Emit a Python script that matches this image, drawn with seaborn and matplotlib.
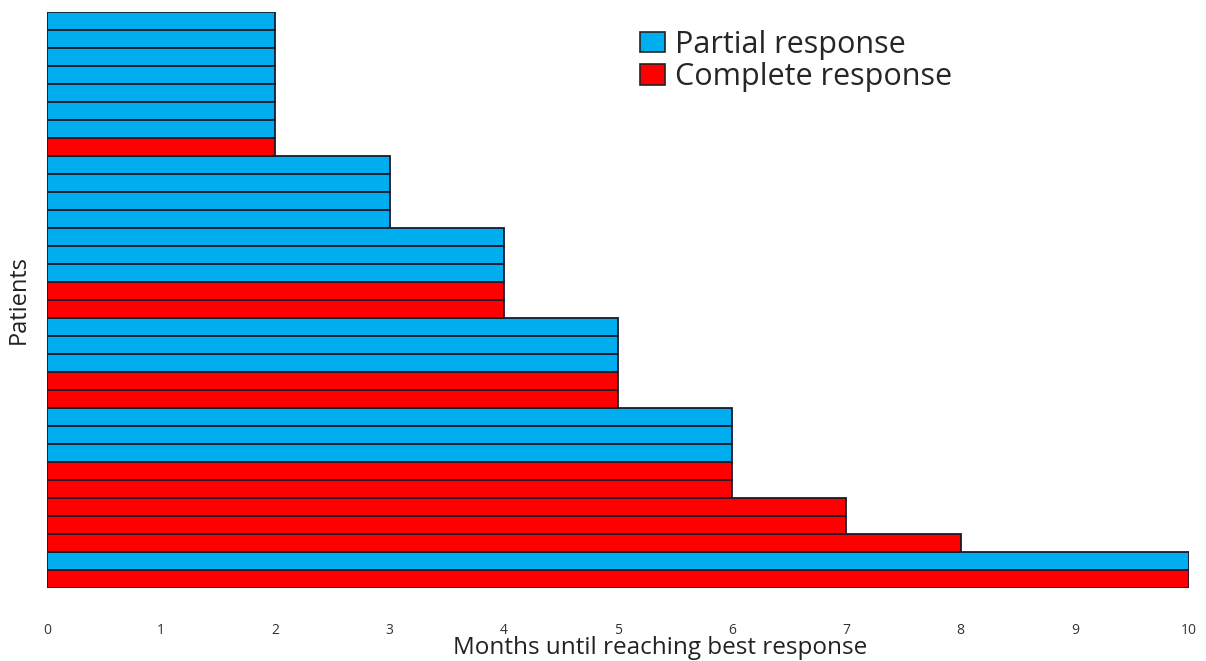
import matplotlib
matplotlib.use("Agg")
import matplotlib.pyplot as plt
import seaborn as sns
import pandas as pd

# Data (top to bottom)
patients = [f"P{i}" for i in range(1, 33)]
months = [2, 2, 2, 2, 2, 2, 2, 2,
          3, 3, 3, 3,
          4, 4, 4, 4, 4,
          5, 5, 5, 5, 5,
          6, 6, 6, 6, 6,
          7, 7, 8, 10, 10]
response = (["Partial response"] * 7 + ["Complete response"] +
            ["Partial response"] * 4 +
            ["Partial response"] * 3 + ["Complete response"] * 2 +
            ["Partial response"] * 3 + ["Complete response"] * 2 +
            ["Partial response"] * 3 + ["Complete response"] * 2 +
            ["Complete response"] * 3 +
            ["Partial response", "Complete response"])
xticks = list(range(0, 11))

df = pd.DataFrame({"patient": patients, "months": months, "response": response})

sns.set_theme(style="white")
plt.rcParams['font.family'] = ['Open Sans', 'DejaVu Sans']

fig = plt.figure(figsize=(12.06, 6.61), dpi=100)
ax = fig.add_axes([47/1206, 1 - 588/661, (1189-47)/1206, (588-12)/661])

palette = {"Partial response": "#00AEEF", "Complete response": "#FF0000"}
sns.barplot(data=df, x="months", y="patient", hue="response", order=patients,
            hue_order=["Partial response", "Complete response"],
            palette=palette, dodge=False, orient="h", width=1.0,
            edgecolor="#1a1a2a", linewidth=1.3, saturation=1, ax=ax, legend=True)

ax.set_xlim(0, 10)
ax.set_ylim(31.5, -0.5)
ax.set_xticks(xticks)
ax.set_xticklabels([str(t) for t in xticks], fontsize=10, color="#333333")
ax.tick_params(axis="x", length=0, pad=25)
ax.set_yticks([])
for s in ax.spines.values():
    s.set_visible(False)
ax.set_xlabel("Months until reaching best response", fontsize=17.5, color="#222222")
ax.xaxis.set_label_coords(0.537, -0.084)
ax.set_ylabel("Patients", fontsize=17, color="#222222", labelpad=12)

leg = ax.legend(loc="upper left", bbox_to_anchor=(0.519, 0.969), frameon=False,
                fontsize=22, handlelength=0.82, handleheight=0.66, handletextpad=0.35,
                labelspacing=0.08, borderpad=0, borderaxespad=0)
for h in leg.legend_handles:
    h.set_edgecolor("#222222")
    h.set_linewidth(1.2)

fig.savefig("out.png", dpi=100)
